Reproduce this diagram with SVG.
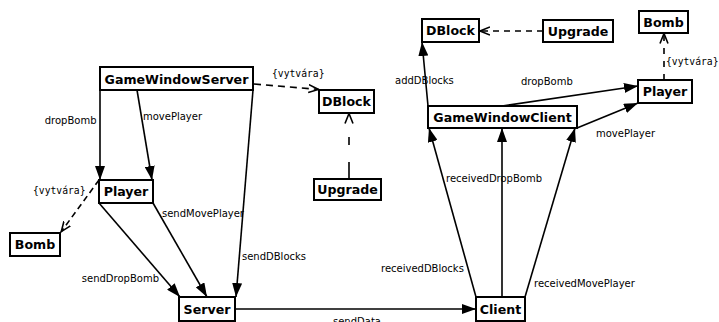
<svg xmlns="http://www.w3.org/2000/svg" width="719" height="322" viewBox="0 0 719 322">
<style>
.box{fill:#fff;stroke:#000;stroke-width:2}
.nt{font-family:"DejaVu Sans","Liberation Sans",sans-serif;font-weight:bold;font-size:12.6px;text-anchor:middle;fill:#000}
.lb{font-family:"DejaVu Sans","Liberation Sans",sans-serif;font-size:10px;fill:#000}
.mono{font-family:"DejaVu Sans Mono","Liberation Mono",monospace;font-size:9.7px;fill:#000}
.e{fill:none;stroke:#000;stroke-width:1.6}
.assoc{marker-end:url(#fa)}
.dep{stroke-dasharray:7,5;marker-end:url(#oa)}
</style>
<defs>
<marker id="fa" viewBox="0 0 14 10" refX="14" refY="5" markerWidth="14" markerHeight="10" markerUnits="userSpaceOnUse" orient="auto"><path d="M0,0 L14,5 L0,10 z" fill="#000"/></marker>
<marker id="oa" viewBox="0 0 11 10" refX="10.5" refY="5" markerWidth="11" markerHeight="10" markerUnits="userSpaceOnUse" orient="auto"><path d="M0,1 L10,5 L0,9" fill="none" stroke="#000" stroke-width="1.6"/></marker>
</defs>
<rect width="719" height="322" fill="#fff"/>
<g id="connectors">
<path class="e dep" d="M254,84 L319,89.5"/>
<path class="e" d="M349,179 L349,113" style="stroke-dasharray:17,17,8,30;marker-end:url(#oa)"/>
<path class="e assoc" d="M100,90 L100,180"/>
<path class="e assoc" d="M137,90 L152,180"/>
<path class="e assoc" d="M253,90 L236,297"/>
<path class="e dep" d="M99,180 L61,232" style="stroke-dasharray:6,4"/>
<path class="e assoc" d="M99,203 L180,297"/>
<path class="e assoc" d="M153,203 L207,297"/>
<path class="e assoc" d="M235,309 L476,309"/>
<path class="e dep" d="M543,31 L479.5,31" style="stroke-dasharray:6,5"/>
<path class="e assoc" d="M428,106 L422,42"/>
<path class="e assoc" d="M502,106 L638,86"/>
<path class="e assoc" d="M577,128 L638,103"/>
<path class="e dep" d="M664,80 L664,33" style="stroke-dasharray:6,7"/>
<path class="e assoc" d="M476,297 L429,128"/>
<path class="e assoc" d="M502,297 L502,128"/>
<path class="e assoc" d="M525,297 L575,128"/>
<text class="mono" x="272" y="77">{vytvára}</text>
<text class="lb" x="96.5" y="124" text-anchor="end">dropBomb</text>
<text class="lb" x="143" y="120">movePlayer</text>
<text class="mono" x="33" y="194">{vytvára}</text>
<text class="lb" x="162" y="217">sendMovePlayer</text>
<text class="lb" x="242" y="260">sendDBlocks</text>
<text class="lb" x="159" y="282" text-anchor="end">sendDropBomb</text>
<text class="lb" x="333" y="325">sendData</text>
<text class="lb" x="395" y="84">addDBlocks</text>
<text class="lb" x="521" y="85">dropBomb</text>
<text class="mono" x="666" y="65">{vytvára}</text>
<text class="lb" x="596" y="137">movePlayer</text>
<text class="lb" x="446" y="182">receivedDropBomb</text>
<text class="lb" x="381" y="272">receivedDBlocks</text>
<text class="lb" x="534" y="287">receivedMovePlayer</text>
</g>
<g id="gameWindowServer"><rect class="box" x="100" y="67" width="153" height="23"/><text class="nt" x="176.5" y="83.5">GameWindowServer</text></g>
<g id="dblockL"><rect class="box" x="319" y="90" width="55" height="23"/><text class="nt" x="346.5" y="106">DBlock</text></g>
<g id="upgradeL"><rect class="box" x="314" y="179" width="67" height="21"/><text class="nt" x="347.5" y="194">Upgrade</text></g>
<g id="playerL"><rect class="box" x="99" y="180" width="54" height="23"/><text class="nt" x="126" y="196">Player</text></g>
<g id="bombL"><rect class="box" x="10" y="233" width="50" height="23"/><text class="nt" x="35" y="249">Bomb</text></g>
<g id="server"><rect class="box" x="179" y="297" width="56" height="24"/><text class="nt" x="207" y="313.5">Server</text></g>
<g id="client"><rect class="box" x="476" y="297" width="49" height="24"/><text class="nt" x="500.5" y="313.5">Client</text></g>
<g id="gameWindowClient"><rect class="box" x="428" y="106" width="149" height="22"/><text class="nt" x="502.5" y="121.5">GameWindowClient</text></g>
<g id="dblockR"><rect class="box" x="422" y="19" width="57" height="23"/><text class="nt" x="450.5" y="35">DBlock</text></g>
<g id="upgradeR"><rect class="box" x="543" y="20" width="70" height="22"/><text class="nt" x="578" y="35.5">Upgrade</text></g>
<g id="bombR"><rect class="box" x="639" y="11" width="49" height="22"/><text class="nt" x="663.5" y="26.5">Bomb</text></g>
<g id="playerR"><rect class="box" x="638" y="80" width="54" height="23"/><text class="nt" x="665" y="96">Player</text></g>
</svg>
